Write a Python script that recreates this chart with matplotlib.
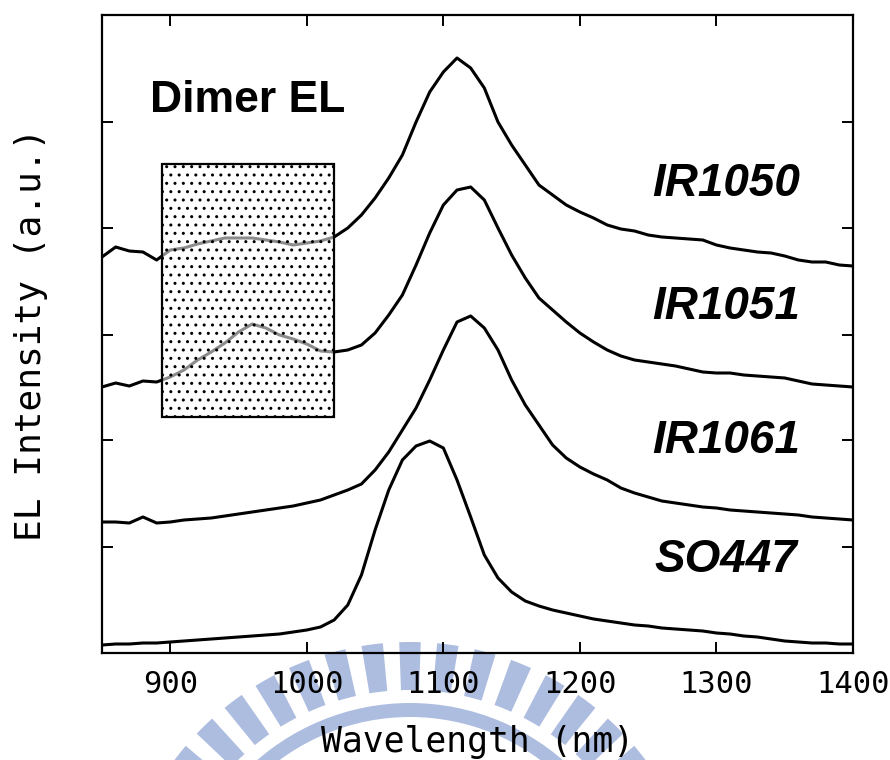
import numpy as np
import matplotlib.pyplot as plt
from matplotlib.patches import Rectangle, Wedge

# Datos (intensidad en u.a., curvas ya desplazadas)
wavelength = np.arange(850, 1401, 10)

ir1050 = [396, 406, 402, 401, 393, 403, 405, 409, 412, 415,
          415, 415, 413, 411, 408, 410, 412, 416, 425, 438,
          455, 475, 498, 531, 561, 581, 595, 585, 565, 531,
          508, 488, 468, 458, 448, 441, 435, 428, 424, 422,
          418, 416, 415, 414, 413, 408, 405, 403, 401, 400,
          397, 393, 391, 391, 388, 387]

ir1051 = [266, 270, 267, 272, 271, 276, 283, 293, 301, 310,
          321, 329, 325, 318, 314, 309, 302, 301, 303, 308,
          320, 338, 358, 388, 420, 448, 463, 466, 453, 425,
          398, 375, 355, 343, 331, 320, 311, 303, 297, 293,
          291, 289, 287, 284, 281, 280, 280, 278, 277, 276,
          275, 272, 269, 268, 267, 266]

ir1061 = [131, 131, 130, 136, 130, 131, 133, 134, 135, 137,
          139, 141, 143, 145, 147, 150, 153, 158, 163, 169,
          183, 201, 223, 245, 273, 303, 331, 337, 325, 303,
          273, 248, 228, 208, 195, 186, 179, 173, 165, 160,
          156, 152, 150, 148, 146, 145, 143, 142, 141, 140,
          139, 138, 136, 135, 134, 133]

so447 = [8, 9, 9, 10, 10, 11, 12, 13, 14, 15,
         16, 17, 18, 19, 21, 23, 26, 33, 48, 78,
         123, 163, 193, 207, 212, 205, 173, 136, 98, 75,
         61, 52, 47, 43, 40, 37, 34, 32, 30, 28,
         27, 25, 24, 23, 22, 20, 19, 17, 16, 14,
         12, 11, 10, 10, 9, 9]

series = [ir1050, ir1051, ir1061, so447]
names = ['IR1050', 'IR1051', 'IR1061', 'SO447']
name_y = [469, 346, 212, 93]

xticks = [900, 1000, 1100, 1200, 1300, 1400]
yticks = [106, 213, 318, 425, 531]

fig = plt.figure(figsize=(8.9, 7.6), dpi=100)

# marca de agua (logo) detras del grafico
bg = fig.add_axes([0, 0, 1, 1], zorder=-1)
bg.set_xlim(0, 890)
bg.set_ylim(760, 0)
bg.axis('off')
wm = '#adbde0'
for k in range(-8, 9):
    c = 270 + k * 7.4
    bg.add_patch(Wedge((410, 936), 294, c - 2.1, c + 2.1, width=48,
                       facecolor=wm, edgecolor='none'))
bg.add_patch(Wedge((410, 936), 233, 180, 360, width=14,
                   facecolor=wm, edgecolor='none'))

ax = fig.add_axes([102/890, 107/760, 751/890, 638/760])
ax.patch.set_alpha(0)

for ys in series:
    ax.plot(wavelength, ys, color='black', lw=2.2, zorder=2)

# recuadro punteado
ax.add_patch(Rectangle((894, 236), 126, 253, facecolor='white', alpha=0.55,
                       edgecolor='none', zorder=3))
plt.rcParams['hatch.linewidth'] = 1.0
ax.add_patch(Rectangle((894, 236), 126, 253, facecolor='none', hatch='..',
                       edgecolor='black', lw=1.6, zorder=4))

for n, y in zip(names, name_y):
    ax.text(1307, y, n, ha='center', va='center', fontsize=33,
            fontweight='bold', style='italic', family='Liberation Sans')
ax.text(885, 553, 'Dimer EL', ha='left', va='center', fontsize=32,
        fontweight='bold', family='Liberation Sans')

ax.set_xlim(850, 1398)
ax.set_ylim(0, 638)
ax.set_xticks(xticks)
ax.set_yticks(yticks)
ax.set_yticklabels([])
ax.tick_params(direction='in', length=8, width=1.4, top=True, right=True,
               labelsize=22, pad=12)
for lab in ax.get_xticklabels():
    lab.set_family('DejaVu Sans Mono')
for s in ax.spines.values():
    s.set_linewidth(1.6)

ax.set_xlabel('Wavelength (nm)', fontsize=25, family='DejaVu Sans Mono', labelpad=19)
ax.set_ylabel('EL Intensity (a.u.)', fontsize=26, family='DejaVu Sans Mono', labelpad=27)

fig.savefig('out.png', dpi=100)
